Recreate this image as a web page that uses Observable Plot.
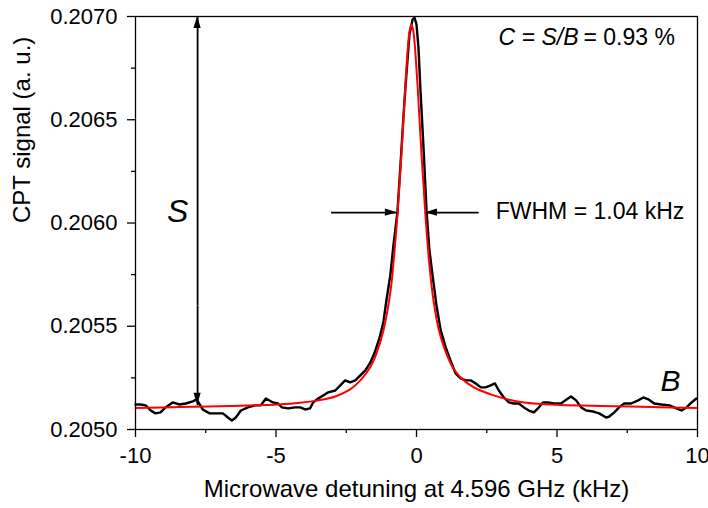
<!DOCTYPE html>
<html>
<head>
<meta charset="utf-8">
<script src="https://cdn.jsdelivr.net/npm/d3@7"></script>
<script src="https://cdn.jsdelivr.net/npm/@observablehq/plot@0.6"></script>
<style>
  html, body { margin: 0; padding: 0; background: #fff; }
</style>
</head>
<body>
<div id="chart"></div>
<script>
// Measured trace (black)
const blackX = [-10.0, -9.82, -9.64, -9.46, -9.29, -9.11, -8.93, -8.68, -8.43, -8.21,
  -7.96, -7.82, -7.61, -7.36, -7.14, -6.89, -6.71, -6.57, -6.43, -6.25,
  -6.00, -5.75, -5.54, -5.36, -5.11, -4.93, -4.79, -4.57, -4.32, -4.14,
  -3.96, -3.79, -3.68, -3.50, -3.32, -3.14, -2.89, -2.71, -2.54, -2.36,
  -2.18, -2.00, -1.82, -1.64, -1.50, -1.32, -1.18, -1.07, -0.93, -0.82,
  -0.68, -0.57, -0.46, -0.36, -0.25, -0.14, -0.07, 0.00, 0.07, 0.14,
  0.25, 0.36, 0.46, 0.57, 0.71, 0.86, 1.04, 1.21, 1.39, 1.57,
  1.75, 1.93, 2.11, 2.29, 2.46, 2.64, 2.79, 2.93, 3.11, 3.29,
  3.46, 3.64, 3.82, 4.00, 4.18, 4.32, 4.50, 4.68, 4.89, 5.14,
  5.39, 5.50, 5.68, 5.86, 6.04, 6.29, 6.50, 6.75, 6.86, 7.04,
  7.21, 7.39, 7.64, 7.89, 8.07, 8.25, 8.46, 8.71, 9.00, 9.25,
  9.43, 9.61, 9.79, 9.96];
const blackY = [0.205121, 0.205121, 0.205117, 0.205092, 0.205078, 0.205083, 0.205107, 0.205131, 0.205121, 0.205126,
  0.205136, 0.205146, 0.205097, 0.205078, 0.205078, 0.205078, 0.205058, 0.205044, 0.205058, 0.205092,
  0.205107, 0.205117, 0.205117, 0.205150, 0.205131, 0.205126, 0.205107, 0.205102, 0.205107, 0.205107,
  0.205097, 0.205102, 0.205131, 0.205150, 0.205165, 0.205180, 0.205189, 0.205214, 0.205238, 0.205228,
  0.205238, 0.205262, 0.205286, 0.205325, 0.205369, 0.205442, 0.205519, 0.205626, 0.205748, 0.205893,
  0.206053, 0.206282, 0.206524, 0.206718, 0.206913, 0.206985, 0.206995, 0.206961, 0.206849, 0.206646,
  0.206364, 0.206053, 0.205869, 0.205748, 0.205602, 0.205481, 0.205398, 0.205335, 0.205272, 0.205248,
  0.205238, 0.205238, 0.205223, 0.205204, 0.205204, 0.205214, 0.205223, 0.205189, 0.205155, 0.205131,
  0.205126, 0.205126, 0.205107, 0.205092, 0.205083, 0.205102, 0.205131, 0.205131, 0.205126, 0.205126,
  0.205150, 0.205160, 0.205141, 0.205107, 0.205092, 0.205087, 0.205078, 0.205058, 0.205063, 0.205083,
  0.205107, 0.205126, 0.205126, 0.205141, 0.205155, 0.205146, 0.205126, 0.205121, 0.205117, 0.205102,
  0.205092, 0.205107, 0.205131, 0.205150];

// Fit curve (red)
const redX = [-10, -8.43, -6.64, -4.93, -4.14, -3.5, -2.89, -2.36, -2.0, -1.64,
  -1.43, -1.18, -0.93, -0.80, -0.68, -0.54, -0.39, -0.29, -0.24, -0.18,
  -0.12, -0.07, 0.04, 0.18, 0.32, 0.46, 0.61, 0.79, 1.0, 1.29,
  1.57, 2.04, 2.64, 3.25, 3.82, 4.43, 5.14, 6.57, 8.36, 10];
const redY = [0.205104, 0.205109, 0.205114, 0.205121, 0.205129, 0.205141, 0.205160, 0.205194, 0.205238, 0.205303,
  0.205366, 0.205478, 0.205665, 0.205838, 0.206035, 0.206328, 0.206683, 0.206876, 0.206935, 0.206961,
  0.206935, 0.206876, 0.206661, 0.206328, 0.206035, 0.205795, 0.205620, 0.205485, 0.205390, 0.205300,
  0.205252, 0.205204, 0.205170, 0.205146, 0.205131, 0.205124, 0.205119, 0.205114, 0.205109, 0.205104];

// Ticks
const xTicks = [-10, -5, 0, 5, 10];
const xMinorTicks = [-7.5, -2.5, 2.5, 7.5];
const yTicks = [0.2050, 0.2055, 0.2060, 0.2065, 0.2070];
const yMinorTicks = [0.20525, 0.20575, 0.20625, 0.20675];

// Annotation arrows (head at x2,y2)
const arrowX1 = [-7.79, -7.79, -3.04, 2.21];
const arrowY1 = [0.20560, 0.20560, 0.20605, 0.20605];
const arrowX2 = [-7.79, -7.79, -0.68, 0.32];
const arrowY2 = [0.2070, 0.205117, 0.20605, 0.20605];

// Labels
const xLabel = "Microwave detuning at 4.596 GHz (kHz)";
const yLabel = "CPT signal (a. u.)";
const fwhmLabel = "FWHM = 1.04 kHz";
const contrastItalic = "C = S/B";
const contrastValue = "= 0.93 %";

const black = blackX.map((x, i) => ({x, y: blackY[i]}));
const red = redX.map((x, i) => ({x, y: redY[i]}));
const arrows = arrowX1.map((x1, i) => ({x1, y1: arrowY1[i], x2: arrowX2[i], y2: arrowY2[i]}));

function arrowHeads(index, scales) {
  const g = d3.create("svg:g");
  for (const a of arrows) {
    const ax = scales.x(a.x1), ay = scales.y(a.y1);
    const bx = scales.x(a.x2), by = scales.y(a.y2);
    const L = Math.hypot(bx - ax, by - ay) || 1;
    const ux = (bx - ax) / L, uy = (by - ay) / L;
    const len = 12, hw = 3.6;
    const cx = bx - ux * len, cy = by - uy * len;
    g.append("path")
      .attr("d", `M${bx},${by}L${cx - uy * hw},${cy + ux * hw}L${cx + uy * hw},${cy - ux * hw}Z`)
      .attr("fill", "black");
  }
  return g.node();
}

const hyphenFormat = d => (d < 0 ? "-" + Math.abs(d) : String(d));
const font = "'Liberation Sans', Arial, sans-serif";

const chart = Plot.plot({
  width: 708,
  height: 508,
  marginLeft: 135,
  marginRight: 11,
  marginTop: 16,
  marginBottom: 79,
  style: {fontFamily: font, fontSize: "22px", background: "#fff", color: "#000"},
  x: {domain: [-10, 10]},
  y: {domain: [0.2050, 0.2070]},
  marks: [
    Plot.line(black, {x: "x", y: "y", stroke: "#000", strokeWidth: 2.4, strokeLinejoin: "round"}),
    Plot.line(red, {x: "x", y: "y", stroke: "#ff0000", strokeWidth: 2, curve: "catmull-rom"}),
    Plot.link(arrows, {x1: "x1", y1: "y1", x2: "x2", y2: "y2", stroke: "#000", strokeWidth: 1.8}),
    arrowHeads,
    Plot.frame({stroke: "#000", strokeWidth: 1.3}),
    Plot.axisX(xTicks, {tickSize: 8, tickPadding: 10, strokeWidth: 1.3, fontSize: 22, tickFormat: hyphenFormat, label: null}),
    Plot.axisX(xMinorTicks, {tickSize: 4, text: null, strokeWidth: 1.3, label: null}),
    Plot.axisY(yTicks, {tickSize: 8, tickPadding: 10, strokeWidth: 1.3, fontSize: 22, tickFormat: d3.format(".4f"), label: null}),
    Plot.axisY(yMinorTicks, {tickSize: 4, text: null, strokeWidth: 1.3, label: null}),
    Plot.text([xLabel], {frameAnchor: "bottom", dy: 67, fontSize: 24, text: d => d}),
    Plot.text([yLabel], {frameAnchor: "left", dx: -113, rotate: -90, fontSize: 24, text: d => d}),
    Plot.text([fwhmLabel], {x: [2.82], y: [0.206053], textAnchor: "start", fontSize: 23, text: d => d}),
    Plot.text([contrastItalic], {x: [5.8], y: [0.206900], dx: -1, textAnchor: "end", fontSize: 23, fontStyle: "italic", text: d => d}),
    Plot.text([contrastValue], {x: [5.8], y: [0.206900], dx: 4, textAnchor: "start", fontSize: 23, text: d => d}),
    Plot.text(["S"], {x: [-8.5], y: [0.206053], fontSize: 32, fontStyle: "italic", text: d => d}),
    Plot.text(["B"], {x: [9.04], y: [0.205233], fontSize: 30, fontStyle: "italic", text: d => d})
  ]
});
document.getElementById("chart").appendChild(chart);
</script>
</body>
</html>
